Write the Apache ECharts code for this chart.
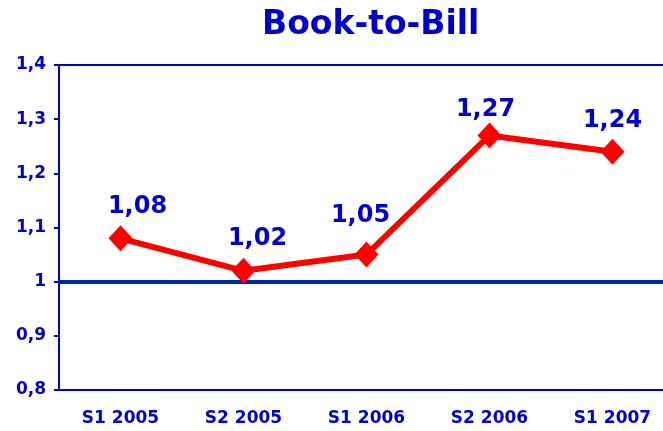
<!DOCTYPE html>
<html>
<head>
<meta charset="utf-8">
<script src="https://cdn.jsdelivr.net/npm/echarts@6/dist/echarts.min.js"></script>
<style>
  html, body { margin: 0; padding: 0; background: #fff; }
  #main { width: 663px; height: 431px; }
</style>
</head>
<body>
<div id="main"></div>
<script>
// 数据
var categories = ["S1 2005", "S2 2005", "S1 2006", "S2 2006", "S1 2007"];
var bookToBill = [1.08, 1.02, 1.05, 1.27, 1.24];
var yTicks = [0.8, 0.9, 1.0, 1.1, 1.2, 1.3, 1.4];
var baseline = 1;

// label nudges (px), only cosmetic
var labelShift = [[17, -2], [14, -2], [-6, -9], [-4, 4], [0, -1]];

var blue = "#0000CC";
var font = "DejaVu Sans, Verdana, sans-serif";

var chartDom = document.getElementById("main");
var myChart = echarts.init(chartDom);
var option = {
  animation: false,
  title: {
    text: "Book-to-Bill",
    left: 257,
    top: 4,
    textStyle: { color: blue, fontFamily: font, fontWeight: "bold", fontSize: 33 },
  },
  grid: {
    left: 59,
    top: 65,
    width: 615,
    height: 325,
    outerBoundsMode: "none",
    containLabel: false,
    show: true,
    borderColor: blue,
    borderWidth: 2,
    backgroundColor: "transparent",
  },
  xAxis: {
    type: "category",
    data: categories,
    boundaryGap: true,
    axisLine: { lineStyle: { color: blue, width: 2 } },
    axisTick: { length: 5, lineStyle: { color: blue, width: 2 } },
    axisLabel: { color: blue, fontFamily: font, fontWeight: "bold", fontSize: 17, margin: 20 },
  },
  yAxis: {
    type: "value",
    min: yTicks[0],
    max: yTicks[yTicks.length - 1],
    interval: 0.1,
    splitLine: { show: false },
    axisLine: { show: true, lineStyle: { color: blue, width: 2 } },
    axisTick: { show: true, length: 5, lineStyle: { color: blue, width: 2 } },
    axisLabel: {
      color: blue,
      fontFamily: font,
      fontWeight: "bold",
      fontSize: 17,
      margin: 13,
      formatter: function (v) {
        return (Math.abs(v - 1) < 1e-9) ? "1" : (+v).toFixed(1).replace(".", ",");
      },
    },
  },
  series: [
    {
      type: "line",
      data: [],
      z: 1,
      silent: true,
      markLine: {
        silent: true,
        symbol: "none",
        label: { show: false },
        lineStyle: { color: "#0028A0", width: 4, type: "solid" },
        data: [{ yAxis: baseline }],
      },
    },
    {
      name: "Book-to-Bill",
      type: "line",
      z: 5,
      data: bookToBill.map(function (v, i) {
        return { value: v, label: { offset: labelShift[i] } };
      }),
      lineStyle: { color: "#FF0000", width: 6 },
      itemStyle: { color: "#FF0000" },
      symbol: "diamond",
      symbolSize: [24, 26],
      label: {
        show: true,
        position: "top",
        distance: 5,
        color: blue,
        fontFamily: font,
        fontWeight: "bold",
        fontSize: 24,
        formatter: function (p) {
          return p.value.toFixed(2).replace(".", ",");
        },
      },
    },
  ],
};

option && myChart.setOption(option);
</script>
</body>
</html>
